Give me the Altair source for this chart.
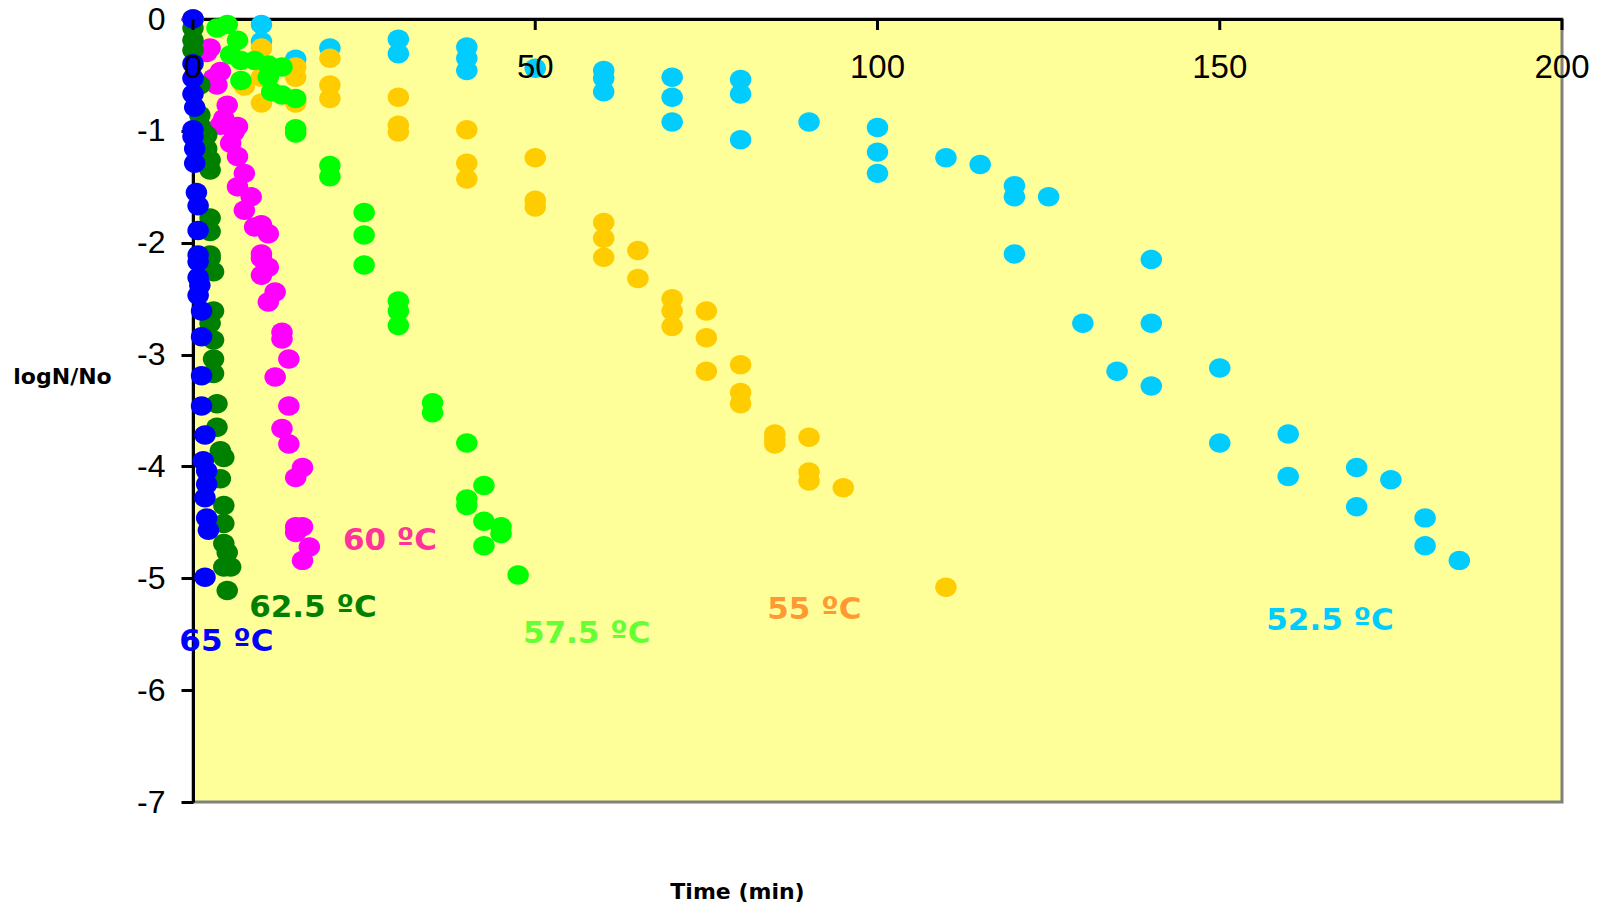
import altair as alt
import pandas as pd

# Survival curves (log reduction vs time) at six temperatures
series_names = ["52.5 ºC", "55 ºC", "57.5 ºC", "60 ºC", "62.5 ºC", "65 ºC"]
point_colors = ["#00CCFF", "#FFCC00", "#00FF00", "#FF00FF", "#008000", "#0000FF"]
label_colors = ["#00CCFF", "#FF9933", "#66FF33", "#FF3399", "#008000", "#0000FF"]

t_525 = [0, 10, 10, 15, 20, 30, 30, 40, 40, 40, 50, 60, 60, 60, 70, 70, 70, 80, 80, 80,
         90, 100, 100, 100, 110, 115, 120, 120, 120, 125, 130, 135, 140, 140, 140,
         150, 150, 160, 160, 170, 170, 175, 180, 180, 185]
v_525 = [0, -0.05, -0.20, -0.36, -0.26, -0.18, -0.31, -0.25, -0.35, -0.46, -0.44,
         -0.46, -0.53, -0.65, -0.52, -0.70, -0.92, -0.54, -0.67, -1.08, -0.92,
         -0.97, -1.19, -1.38, -1.24, -1.30, -1.49, -1.59, -2.10, -1.59, -2.72, -3.15,
         -2.15, -2.72, -3.28, -3.12, -3.79, -3.71, -4.09, -4.01, -4.36, -4.12,
         -4.46, -4.71, -4.84]

t_55 = [0, 7.5, 10, 10, 10, 15, 15, 15, 20, 20, 20, 30, 30, 30, 40, 40, 40, 50, 50, 50,
        60, 60, 60, 65, 65, 70, 70, 70, 75, 75, 75, 80, 80, 80, 85, 85, 85, 90, 90, 90,
        95, 110]
v_55 = [0, -0.60, -0.26, -0.52, -0.75, -0.43, -0.52, -0.75, -0.35, -0.59, -0.71,
        -0.70, -0.95, -1.01, -0.99, -1.29, -1.43, -1.24, -1.62, -1.68, -1.82, -1.96,
        -2.13, -2.07, -2.32, -2.50, -2.61, -2.75, -2.61, -2.85, -3.15, -3.09, -3.34,
        -3.44, -3.71, -3.76, -3.80, -3.74, -4.05, -4.13, -4.19, -5.08]

t_575 = [0, 3.5, 5, 6.5, 5.5, 7, 9, 11, 13, 7, 11, 11.5, 13, 15, 15, 15, 20, 20,
         25, 25, 25, 30, 30, 30, 35, 35, 40, 40, 40, 42.5, 42.5, 42.5, 45, 45, 47.5]
v_575 = [0, -0.08, -0.05, -0.19, -0.32, -0.37, -0.37, -0.41, -0.43, -0.55, -0.52,
         -0.65, -0.68, -0.71, -0.98, -1.02, -1.31, -1.41, -1.73, -1.93, -2.20,
         -2.52, -2.61, -2.74, -3.43, -3.52, -3.79, -4.29, -4.35, -4.17, -4.49,
         -4.71, -4.54, -4.60, -4.97]

t_60 = [0, 2, 2.5, 3, 3.5, 4, 4, 4.5, 5, 5.5, 6, 6.5, 6.5, 6.5, 7.5, 7.5, 8.5, 9,
        10, 10, 10, 10, 11, 11, 11, 12, 12, 13, 13, 13, 14, 14, 14, 15, 15, 15,
        16, 16, 16, 17]
v_60 = [0, -0.30, -0.26, -0.53, -0.59, -0.47, -0.95, -0.89, -0.77, -1.11, -1.01,
        -0.96, -1.23, -1.50, -1.38, -1.71, -1.59, -1.86, -1.84, -2.10, -2.14, -2.29,
        -1.92, -2.22, -2.53, -2.44, -3.20, -2.80, -2.86, -3.66, -3.04, -3.46, -3.80,
        -4.10, -4.54, -4.59, -4.01, -4.54, -4.84, -4.72]

t_625 = [0, 0, 0, 1, 1, 1, 1.5, 2, 2, 2.5, 2.5, 2.5, 2.5, 2.5, 2.5, 3, 3, 2.5, 3, 3,
         3, 3.5, 3.5, 4, 4.5, 4, 4.5, 4.5, 4.5, 5, 4.5, 5.5, 5]
v_625 = [-0.08, -0.19, -0.28, -0.59, -0.86, -0.95, -1.01, -1.04, -1.16, -1.26, -1.35,
         -1.78, -1.90, -2.11, -2.14, -2.26, -2.61, -2.72, -2.87, -3.04, -3.17, -3.44,
         -3.65, -3.86, -3.92, -4.11, -4.35, -4.51, -4.69, -4.77, -4.90, -4.90, -5.11]

t_65 = [0, 0, 0, 0, 0.25, 0, 0, 0.25, 0.25, 0.5, 0.75, 0.75, 0.75, 0.75, 0.75, 1,
        0.75, 1.25, 1.25, 1.25, 1.25, 1.75, 1.5, 2, 2, 1.75, 2, 2.25, 1.75]
v_65 = [0, -0.40, -0.53, -0.67, -0.79, -0.99, -1.05, -1.16, -1.29, -1.55, -1.67,
        -1.89, -2.11, -2.17, -2.31, -2.38, -2.47, -2.61, -2.84, -3.19, -3.46, -3.72,
        -3.95, -4.04, -4.16, -4.28, -4.46, -4.57, -4.99]

# where each temperature label sits (time, logN of its left edge / middle)
label_t = [156.8, 83.9, 48.2, 21.9, 8.2, -2.0]
label_v = [-5.38, -5.28, -5.50, -4.67, -5.27, -5.57]

x_tick_values = [0, 50, 100, 150, 200]
y_tick_values = [-7, -6, -5, -4, -3, -2, -1, 0]

all_t = [t_525, t_55, t_575, t_60, t_625, t_65]
all_v = [v_525, v_55, v_575, v_60, v_625, v_65]

rows = []
for i, (name, ts, vs) in enumerate(zip(series_names, all_t, all_v)):
    for t, v in zip(ts, vs):
        rows.append({"series": name, "layer": i, "time": t, "logN": v})
df = pd.DataFrame(rows)

x_scale = alt.Scale(domain=[0, 200], nice=False, zero=False)
y_scale = alt.Scale(domain=[-7, 0], nice=False, zero=False)

# slightly wide elliptical marker
ellipse = "M -1.05 0 A 1.05 0.95 0 1 0 1.05 0 A 1.05 0.95 0 1 0 -1.05 0 Z"

points = alt.Chart(df).mark_point(
    shape=ellipse, filled=True, size=420, opacity=1, strokeWidth=0
).encode(
    x=alt.X(
        "time:Q",
        scale=x_scale,
        axis=alt.Axis(
            orient="top", labels=False, ticks=False, grid=False,
            domainColor="black", domainWidth=3,
            title="Time (min)", titleX=544, titleY=872,
            titleAlign="center", titleBaseline="middle",
            titleFont="DejaVu Sans", titleFontSize=22, titleFontWeight="bold",
            titleColor="black",
        ),
    ),
    y=alt.Y(
        "logN:Q",
        scale=y_scale,
        axis=alt.Axis(
            values=y_tick_values, grid=False,
            labelExpr="datum.value == 0 ? '0' : '-' + abs(datum.value)",
            labelFont="Liberation Sans", labelFontSize=32, labelColor="black",
            labelPadding=16,
            tickSize=12, tickWidth=3, tickColor="black",
            domainColor="black", domainWidth=3,
            title="logN/No", titleAngle=0, titleX=-131, titleY=357,
            titleAlign="center", titleBaseline="middle",
            titleFont="DejaVu Sans", titleFontSize=22, titleFontWeight="bold",
            titleColor="black",
        ),
    ),
    color=alt.Color(
        "series:N",
        scale=alt.Scale(domain=series_names, range=point_colors),
        legend=None,
    ),
    order=alt.Order("layer:Q"),
)

# x ticks point into the plot from the top axis, with labels just below them
xticks_df = pd.DataFrame({"time": x_tick_values})
x_ticks = alt.Chart(xticks_df).mark_rule(color="black", strokeWidth=3).encode(
    x=alt.X("time:Q", scale=x_scale),
    y=alt.value(0),
    y2=alt.value(11),
)
x_labels = alt.Chart(xticks_df).mark_text(
    font="Liberation Sans", fontSize=33, color="black",
    align="center", baseline="middle",
).encode(
    x=alt.X("time:Q", scale=x_scale),
    y=alt.value(49),
    text=alt.Text("time:Q", format="d"),
)

labels = []
for name, col, lt, lv in zip(series_names, label_colors, label_t, label_v):
    ldf = pd.DataFrame({"time": [lt], "logN": [lv], "label": [name]})
    labels.append(
        alt.Chart(ldf).mark_text(
            font="DejaVu Sans", fontSize=31, fontWeight="bold", color=col,
            align="left", baseline="middle",
        ).encode(
            x=alt.X("time:Q", scale=x_scale),
            y=alt.Y("logN:Q", scale=y_scale),
            text="label:N",
        )
    )

chart = alt.layer(points, x_ticks, x_labels, *labels).properties(
    width=1369,
    height=783,
    padding={"left": 193, "top": 19, "right": 44, "bottom": 107},
    autosize=alt.AutoSizeParams(type="none"),
    background="white",
).configure_view(
    fill="#FFFF99", stroke="#808080", strokeWidth=3,
)

chart.save("out.html", embed_options={"renderer": "svg", "actions": False})
